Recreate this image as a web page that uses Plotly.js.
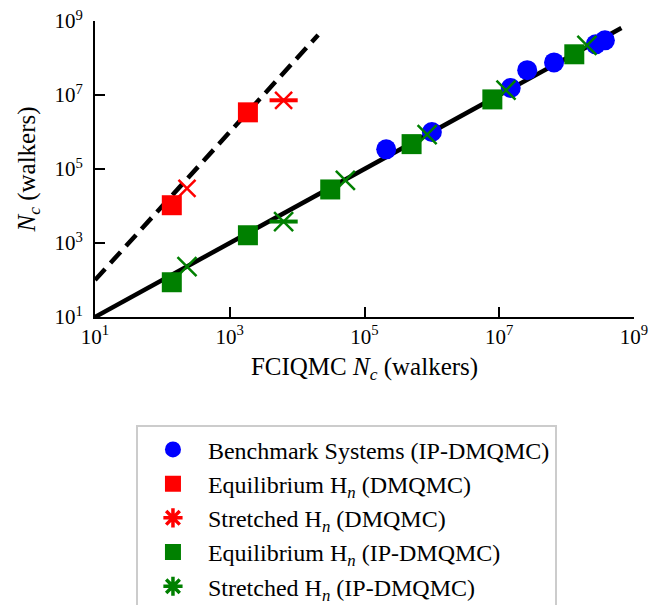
<!DOCTYPE html>
<html>
<head>
<meta charset="utf-8">
<script src="https://cdn.plot.ly/plotly-3.0.1.min.js"></script>
<style>html,body{margin:0;padding:0;background:#fff;}#chart{width:666px;height:605px;}</style>
</head>
<body>
<div id="chart"></div>
<script>
// Reference lines
var idealX = [10, 6.5e8];
var idealY = [10, 6.5e8];
var dmqmcLineX = [10, 2.05e4];
var dmqmcLineY = [100, 4.2e8];

// Benchmark systems (IP-DMQMC)
var benchX = [2.1e5, 1.0e6, 1.48e7, 2.6e7, 6.5e7, 2.7e8, 3.7e8];
var benchY = [3.4e5, 1.0e6, 1.55e7, 4.7e7, 7.6e7, 2.34e8, 3.0e8];

// Equilibrium H_n (DMQMC)
var eqDmX = [138, 1860];
var eqDmY = [1.05e4, 3.4e6];

// Stretched H_n (DMQMC)
var stDmX = [232, 6300];
var stDmY = [3.0e4, 7.2e6];
var stDmErrPlus = [0, 3900];
var stDmErrMinus = [0, 2400];

// Equilibrium H_n (IP-DMQMC)
var eqIpX = [138, 1860, 3.1e4, 5.0e5, 7.9e6, 1.3e8];
var eqIpY = [87, 1620, 2.8e4, 4.7e5, 7.6e6, 1.26e8];

// Stretched H_n (IP-DMQMC)
var stIpX = [232, 6300, 5.2e4, 8.5e5, 1.26e7, 2.0e8];
var stIpY = [230, 3800, 4.9e4, 8.5e5, 1.35e7, 2.2e8];
var stIpErrPlus = [0, 3900, 0, 0, 0, 0];
var stIpErrMinus = [0, 2400, 0, 0, 0, 0];

// Tick labels
var tickVals = [10, 1e3, 1e5, 1e7, 1e9];
var tickText = ['10<sup>1</sup>', '10<sup>3</sup>', '10<sup>5</sup>', '10<sup>7</sup>', '10<sup>9</sup>'];

var legendNames = [
  'Benchmark Systems (IP-DMQMC)',
  'Equilibrium H<sub><i>n</i></sub> (DMQMC)',
  'Stretched H<sub><i>n</i></sub> (DMQMC)',
  'Equilibrium H<sub><i>n</i></sub> (IP-DMQMC)',
  'Stretched H<sub><i>n</i></sub> (IP-DMQMC)'
];

var BLUE = '#0000ff', RED = '#ff0000', GREEN = '#008000';
var SERIF = 'Liberation Serif';

var traces = [
  {x: idealX, y: idealY, mode: 'lines', line: {color: '#000', width: 4.5}, showlegend: false, hoverinfo: 'skip'},
  {x: dmqmcLineX, y: dmqmcLineY, mode: 'lines', line: {color: '#000', width: 4.5, dash: '15px,8px'}, showlegend: false, hoverinfo: 'skip'},
  {x: benchX, y: benchY, mode: 'markers', marker: {symbol: 'circle', size: 20, color: BLUE}, showlegend: false},
  {x: eqDmX, y: eqDmY, mode: 'markers', marker: {symbol: 'square', size: 20, color: RED}, showlegend: false},
  {x: stDmX, y: stDmY, mode: 'markers', marker: {symbol: 'x-thin-open', size: 17, color: RED, line: {color: RED, width: 2.5}},
   error_x: {type: 'data', symmetric: false, array: stDmErrPlus, arrayminus: stDmErrMinus, color: RED, thickness: 4, width: 0}, showlegend: false},
  {x: eqIpX, y: eqIpY, mode: 'markers', marker: {symbol: 'square', size: 20, color: GREEN}, showlegend: false},
  {x: stIpX, y: stIpY, mode: 'markers', marker: {symbol: 'x-thin-open', size: 19, color: GREEN, line: {color: GREEN, width: 2.5}},
   error_x: {type: 'data', symmetric: false, array: stIpErrPlus, arrayminus: stIpErrMinus, color: GREEN, thickness: 4, width: 0}, showlegend: false}
];

// legend entries
var legendSymbols = ['circle', 'square', 'asterisk-open', 'square', 'asterisk-open'];
var legendColors = [BLUE, RED, RED, GREEN, GREEN];
for (var i = 0; i < legendNames.length; i++) {
  var open = legendSymbols[i] === 'asterisk-open';
  traces.push({
    x: [null], y: [null], mode: 'markers', name: legendNames[i], legendgroup: 'g' + i,
    marker: open ? {symbol: 'asterisk-open', size: 16, color: legendColors[i], line: {color: legendColors[i], width: 3.5}}
                 : {symbol: legendSymbols[i], size: 16, color: legendColors[i]}
  });
}

var axisCommon = {
  type: 'log', showgrid: false, zeroline: false, showline: true, linecolor: '#000', linewidth: 2,
  ticks: 'inside', ticklen: 10, tickwidth: 2, tickcolor: '#000',
  tickvals: tickVals, ticktext: tickText, tickfont: {family: SERIF, size: 21, color: '#000'},
  range: [1, 9], fixedrange: true
};

var layout = {
  width: 666, height: 605,
  margin: {l: 95, r: 32, t: 21, b: 288, autoexpand: false},
  paper_bgcolor: '#fff', plot_bgcolor: '#fff',
  font: {family: SERIF, color: '#000'},
  xaxis: Object.assign({}, axisCommon, {
    ticklabelstandoff: 0,
    title: {text: 'FCIQMC <i>N</i><sub><i>c</i></sub> (walkers)', font: {family: SERIF, size: 25, color: '#000'}, standoff: 9}
  }),
  yaxis: Object.assign({}, axisCommon, {
    ticklabelstandoff: 6,
    title: {text: '<i>N</i><sub><i>c</i></sub> (walkers)', font: {family: SERIF, size: 25, color: '#000'}, standoff: 12}
  }),
  showlegend: true,
  legend: {
    x: 0.076, y: -0.366, xanchor: 'left', yanchor: 'top',
    bgcolor: '#fff', bordercolor: '#cccccc', borderwidth: 2,
    font: {family: SERIF, size: 24, color: '#000'},
    traceorder: 'grouped', tracegroupgap: 0, itemwidth: 60
  }
};

Plotly.newPlot('chart', traces, layout, {staticPlot: true, displayModeBar: false});
</script>
</body>
</html>
